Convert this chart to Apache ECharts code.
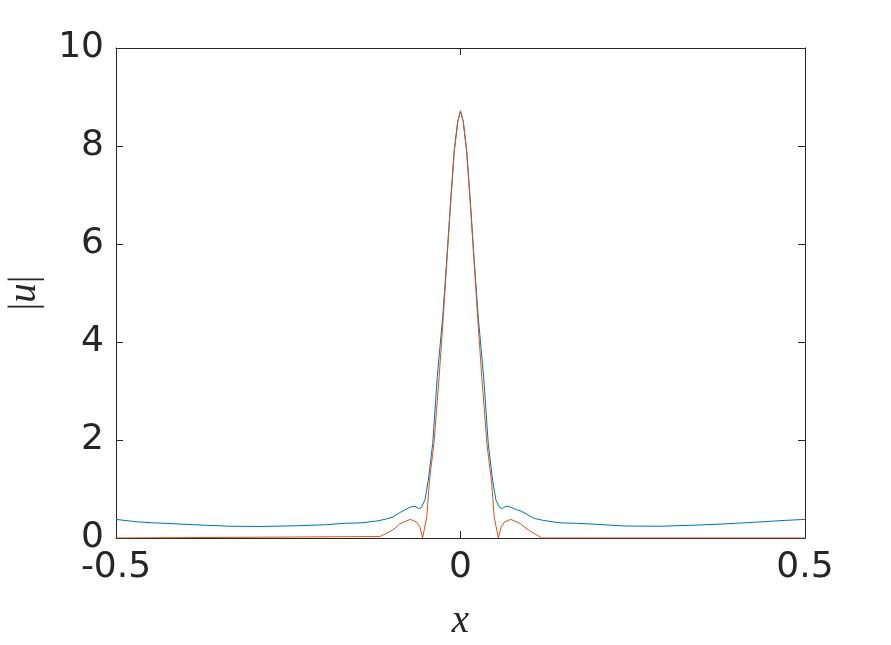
<!DOCTYPE html>
<html>
<head>
<meta charset="utf-8">
<script src="https://cdn.jsdelivr.net/npm/echarts@6/dist/echarts.min.js"></script>
<style>
  html, body { margin: 0; padding: 0; background: #fff; }
  #chart { width: 891px; height: 645px; }
</style>
</head>
<body>
<div id="chart"></div>
<script>
// |u| profiles
const blueX = [-0.5, -0.47, -0.446, -0.40, -0.37, -0.335, -0.29, -0.237, -0.197, -0.168, -0.143, -0.12, -0.107, -0.098, -0.088, -0.081, -0.073, -0.066, -0.061, -0.057, -0.0515, -0.0467, -0.0403, -0.0337, -0.0258, -0.020, -0.0142, -0.009, -0.004, 0,
  0.004, 0.009, 0.0142, 0.020, 0.0258, 0.0337, 0.0403, 0.0467, 0.0515, 0.057, 0.061, 0.066, 0.073, 0.081, 0.088, 0.098, 0.107, 0.12, 0.143, 0.168, 0.197, 0.237, 0.29, 0.336, 0.372, 0.40, 0.425, 0.448, 0.472, 0.5]
const blueY = [0.38, 0.33, 0.31, 0.28, 0.26, 0.24, 0.235, 0.25, 0.27, 0.30, 0.31, 0.35, 0.39, 0.43, 0.52, 0.57, 0.63, 0.65, 0.60, 0.62, 0.78, 1.18, 1.93, 3.29, 4.52, 5.67, 6.90, 7.92, 8.5, 8.71,
  8.5, 7.9, 6.88, 5.65, 4.5, 3.27, 1.92, 1.17, 0.77, 0.62, 0.60, 0.65, 0.63, 0.58, 0.55, 0.47, 0.40, 0.36, 0.31, 0.30, 0.28, 0.245, 0.24, 0.26, 0.28, 0.30, 0.32, 0.34, 0.36, 0.38]

const orangeX = [-0.5, -0.117, -0.107, -0.0985, -0.088, -0.073, -0.064, -0.059, -0.055, -0.049, -0.045, -0.0385, -0.031, -0.025, -0.020, -0.0142, -0.009, -0.004, 0,
  0.004, 0.009, 0.0142, 0.020, 0.025, 0.031, 0.0385, 0.045, 0.049, 0.055, 0.059, 0.064, 0.073, 0.086, 0.10, 0.111, 0.118, 0.5]
const orangeY = [0, 0.03, 0.10, 0.16, 0.29, 0.38, 0.33, 0.23, 0, 0.43, 1.18, 1.93, 3.29, 4.5, 5.6, 6.85, 7.9, 8.5, 8.72,
  8.5, 7.88, 6.83, 5.58, 4.48, 3.27, 1.9, 1.16, 0.42, 0, 0.22, 0.33, 0.38, 0.30, 0.15, 0.06, 0, 0]

const xTicks = [-0.5, 0, 0.5]
const yTicks = [0, 2, 4, 6, 8, 10]

const pairs = (xs, ys) => xs.map((x, i) => [x, ys[i]])

const chart = echarts.init(document.getElementById('chart'), null, { renderer: 'canvas' })

const textColor = '#262626'
const tickFont = 'DejaVu Sans'

const axisCommon = {
  axisLine: { show: true, onZero: false, lineStyle: { color: textColor, width: 1 } },
  axisTick: { show: true, inside: true, length: 7, lineStyle: { color: textColor, width: 1 } },
  splitLine: { show: false }
}

chart.setOption({
  animation: false,
  backgroundColor: '#fff',
  grid: { left: 116, right: 86, top: 48, bottom: 107, outerBoundsMode: 'none', containLabel: false },
  xAxis: [
    {
      ...axisCommon,
      type: 'value',
      min: xTicks[0],
      max: xTicks[xTicks.length - 1],
      interval: 0.5,
      axisLabel: { color: textColor, fontSize: 36, fontFamily: tickFont, margin: 12, formatter: v => String(v) },
      name: 'x',
      nameLocation: 'middle',
      nameGap: 64,
      nameTextStyle: { color: textColor, fontSize: 39, fontFamily: 'Liberation Serif', fontStyle: 'italic' }
    },
    {
      ...axisCommon,
      type: 'value',
      position: 'top',
      min: xTicks[0],
      max: xTicks[xTicks.length - 1],
      interval: 0.5,
      axisLabel: { show: false }
    }
  ],
  yAxis: [
    {
      ...axisCommon,
      type: 'value',
      min: yTicks[0],
      max: yTicks[yTicks.length - 1],
      interval: 2,
      axisLabel: { color: textColor, fontSize: 36, fontFamily: tickFont, margin: 12 },
      name: '{b||}{u|u}{b||}',
      nameLocation: 'middle',
      nameRotate: 90,
      nameGap: 72,
      nameTextStyle: {
        color: textColor,
        rich: {
          b: { fontSize: 39, fontFamily: 'Liberation Serif', color: textColor },
          u: { fontSize: 39, fontFamily: 'Liberation Serif', fontStyle: 'italic', color: textColor }
        }
      }
    },
    {
      ...axisCommon,
      type: 'value',
      position: 'right',
      min: yTicks[0],
      max: yTicks[yTicks.length - 1],
      interval: 2,
      axisLabel: { show: false }
    }
  ],
  series: [
    {
      name: 'blue',
      type: 'line',
      data: pairs(blueX, blueY),
      showSymbol: false,
      smooth: false,
      lineStyle: { color: '#0072BD', width: 1 },
      itemStyle: { color: '#0072BD' }
    },
    {
      name: 'orange',
      type: 'line',
      data: pairs(orangeX, orangeY),
      showSymbol: false,
      smooth: false,
      lineStyle: { color: '#D95319', width: 1 },
      itemStyle: { color: '#D95319' }
    }
  ]
})
</script>
</body>
</html>
